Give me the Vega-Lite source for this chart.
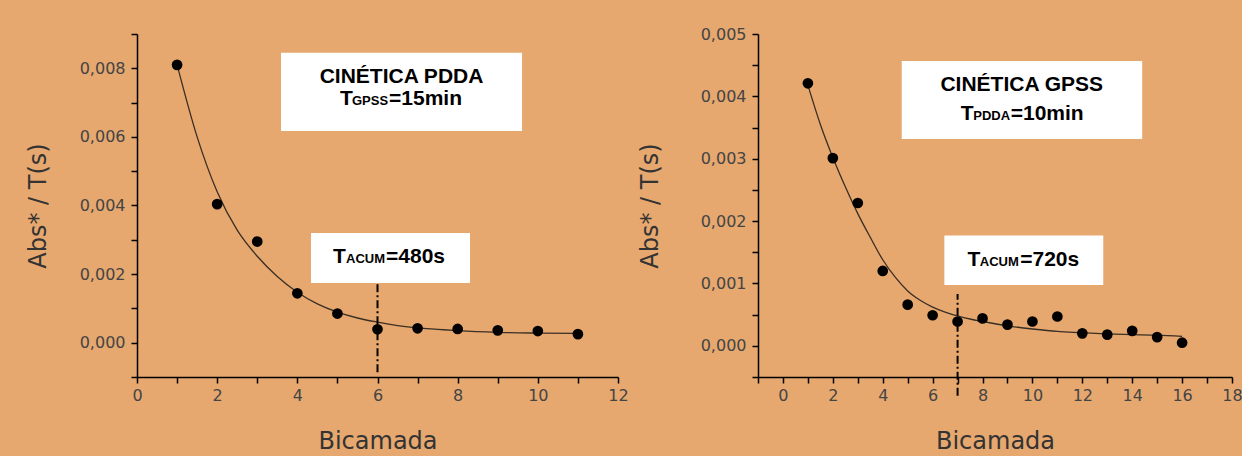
{
  "$schema": "https://vega.github.io/schema/vega-lite/v6.json",
  "padding": {"left": 26, "top": 26, "right": 0, "bottom": 8},
  "spacing": 9,
  "datasets": {
    "leftPoints": [
      {"bicamada": 1, "abs": 0.0081},
      {"bicamada": 2, "abs": 0.00404},
      {"bicamada": 3, "abs": 0.00295},
      {"bicamada": 4, "abs": 0.00144},
      {"bicamada": 5, "abs": 0.00085},
      {"bicamada": 6, "abs": 0.00039},
      {"bicamada": 7, "abs": 0.00042},
      {"bicamada": 8, "abs": 0.0004},
      {"bicamada": 9, "abs": 0.00036},
      {"bicamada": 10, "abs": 0.00034},
      {"bicamada": 11, "abs": 0.00025}
    ],
    "leftFit": [
      {"bicamada": 1, "abs": 0.0081},
      {"bicamada": 1.5, "abs": 0.006},
      {"bicamada": 2, "abs": 0.0044},
      {"bicamada": 2.5, "abs": 0.00328},
      {"bicamada": 3, "abs": 0.00252},
      {"bicamada": 3.5, "abs": 0.00193},
      {"bicamada": 4, "abs": 0.00147},
      {"bicamada": 4.5, "abs": 0.00113},
      {"bicamada": 5, "abs": 0.00089},
      {"bicamada": 5.5, "abs": 0.00072},
      {"bicamada": 6, "abs": 0.0006},
      {"bicamada": 6.5, "abs": 0.0005},
      {"bicamada": 7, "abs": 0.00043},
      {"bicamada": 7.5, "abs": 0.00039},
      {"bicamada": 8, "abs": 0.00035},
      {"bicamada": 9, "abs": 0.0003},
      {"bicamada": 10, "abs": 0.00028},
      {"bicamada": 11, "abs": 0.00027}
    ],
    "rightPoints": [
      {"bicamada": 1, "abs": 0.00421},
      {"bicamada": 2, "abs": 0.00301},
      {"bicamada": 3, "abs": 0.00229},
      {"bicamada": 4, "abs": 0.0012},
      {"bicamada": 5, "abs": 0.00066},
      {"bicamada": 6, "abs": 0.00049},
      {"bicamada": 7, "abs": 0.00039},
      {"bicamada": 8, "abs": 0.00044},
      {"bicamada": 9, "abs": 0.00034},
      {"bicamada": 10, "abs": 0.00039},
      {"bicamada": 11, "abs": 0.00047},
      {"bicamada": 12, "abs": 0.0002},
      {"bicamada": 13, "abs": 0.00018},
      {"bicamada": 14, "abs": 0.00024},
      {"bicamada": 15, "abs": 0.00014},
      {"bicamada": 16, "abs": 0.00005}
    ],
    "rightFit": [
      {"bicamada": 1, "abs": 0.00418},
      {"bicamada": 1.5, "abs": 0.00355},
      {"bicamada": 2, "abs": 0.00302},
      {"bicamada": 2.5, "abs": 0.00255},
      {"bicamada": 3, "abs": 0.00212},
      {"bicamada": 3.5, "abs": 0.00174},
      {"bicamada": 4, "abs": 0.00138},
      {"bicamada": 4.5, "abs": 0.0011},
      {"bicamada": 5, "abs": 0.00088},
      {"bicamada": 5.5, "abs": 0.00073},
      {"bicamada": 6, "abs": 0.00062},
      {"bicamada": 6.5, "abs": 0.00054},
      {"bicamada": 7, "abs": 0.00048},
      {"bicamada": 7.5, "abs": 0.00043},
      {"bicamada": 8, "abs": 0.00039},
      {"bicamada": 9, "abs": 0.00032},
      {"bicamada": 10, "abs": 0.00027},
      {"bicamada": 11, "abs": 0.00023},
      {"bicamada": 12, "abs": 0.00021},
      {"bicamada": 13, "abs": 0.00019},
      {"bicamada": 14, "abs": 0.00018},
      {"bicamada": 15, "abs": 0.00017},
      {"bicamada": 16, "abs": 0.00015}
    ]
  },
  "hconcat": [
    {
      "width": 481,
      "height": 343,
      "layer": [
        {
          "data": {"values": [
            {"x1": 3.593, "x2": 9.606, "y1": 0.006175, "y2": 0.008453},
            {"x1": 4.341, "x2": 8.308, "y1": 0.001737, "y2": 0.003197}
          ]},
          "mark": {"type": "rect", "fill": "white", "stroke": null},
          "encoding": {
            "x": {"field": "x1", "type": "quantitative", "scale": {"domain": [0, 12], "nice": false},
              "axis": {"title": "Bicamada", "values": [0,1,2,3,4,5,6,7,8,9,10,11,12], "tickCount": 100,
                "labelExpr": "datum.value % 2 == 0 ? format(datum.value, 'd') : ''",
                "labelOverlap": false, "labelFontSize": 16, "labelFont": "DejaVu Sans",
                "labelPadding": 4, "titlePadding": 26}},
            "x2": {"field": "x2"},
            "y": {"field": "y1", "type": "quantitative", "scale": {"domain": [-0.001, 0.009], "nice": false, "zero": false},
              "axis": {"title": "Abs* / T(s)", "values": [-0.001,0,0.001,0.002,0.003,0.004,0.005,0.006,0.007,0.008,0.009], "tickCount": 100,
                "labelExpr": "round(datum.value*1000) % 2 == 0 ? replace(format(datum.value, '.3f'), '.', ',') : ''",
                "labelOverlap": false, "labelFontSize": 16, "labelFont": "DejaVu Sans",
                "labelPadding": 6, "titlePadding": 29}},
            "y2": {"field": "y2"}
          }
        },
        {
          "data": {"name": "leftFit"},
          "mark": {"type": "line", "color": "#3a2f25", "strokeWidth": 1.3, "interpolate": "monotone"},
          "encoding": {
            "x": {"field": "bicamada", "type": "quantitative"},
            "y": {"field": "abs", "type": "quantitative"}
          }
        },
        {
          "data": {"values": [{"x": 6, "y1": -0.00086, "y2": 0.00174}]},
          "mark": {"type": "rule", "color": "#000", "strokeWidth": 2, "strokeDash": [8, 3, 2, 3], "clip": false},
          "encoding": {
            "x": {"field": "x", "type": "quantitative"},
            "y": {"field": "y1", "type": "quantitative"},
            "y2": {"field": "y2"}
          }
        },
        {
          "data": {"name": "leftPoints"},
          "mark": {"type": "point", "filled": true, "shape": "circle", "color": "#000", "opacity": 1, "size": 115},
          "encoding": {
            "x": {"field": "bicamada", "type": "quantitative"},
            "y": {"field": "abs", "type": "quantitative"}
          }
        },
        {
          "data": {"values": [
            {"x": 6.599, "y": 0.007577, "label": "CINÉTICA PDDA"}
          ]},
          "mark": {"type": "text", "font": "Liberation Sans", "fontWeight": "bold", "fontSize": 21, "align": "center", "baseline": "alphabetic", "color": "#000"},
          "encoding": {
            "x": {"field": "x", "type": "quantitative"},
            "y": {"field": "y", "type": "quantitative"},
            "text": {"field": "label"}
          }
        },
        {
          "data": {"values": [
            {"x": 5.065, "y": 0.006934, "label": "T"},
            {"x": 6.287, "y": 0.006934, "label": "=15min"},
            {"x": 4.89, "y": 0.002321, "label": "T"},
            {"x": 6.213, "y": 0.002321, "label": "=480s"}
          ]},
          "mark": {"type": "text", "font": "Liberation Sans", "fontWeight": "bold", "fontSize": 21, "align": "left", "baseline": "alphabetic", "color": "#000"},
          "encoding": {
            "x": {"field": "x", "type": "quantitative"},
            "y": {"field": "y", "type": "quantitative"},
            "text": {"field": "label"}
          }
        },
        {
          "data": {"values": [
            {"x": 5.364, "y": 0.006934, "label": "GPSS"},
            {"x": 5.215, "y": 0.002321, "label": "ACUM"}
          ]},
          "mark": {"type": "text", "font": "Liberation Sans", "fontWeight": "bold", "fontSize": 13, "align": "left", "baseline": "alphabetic", "color": "#000"},
          "encoding": {
            "x": {"field": "x", "type": "quantitative"},
            "y": {"field": "y", "type": "quantitative"},
            "text": {"field": "label"}
          }
        }
      ]
    },
    {
      "width": 474,
      "height": 343,
      "layer": [
        {
          "data": {"values": [
            {"x1": 4.76, "x2": 14.4, "y1": 0.003317, "y2": 0.004566},
            {"x1": 6.47, "x2": 12.84, "y1": 0.000976, "y2": 0.001768}
          ]},
          "mark": {"type": "rect", "fill": "white", "stroke": null},
          "encoding": {
            "x": {"field": "x1", "type": "quantitative", "scale": {"domain": [-1, 18], "nice": false, "zero": false},
              "axis": {"title": "Bicamada", "values": [-1,0,1,2,3,4,5,6,7,8,9,10,11,12,13,14,15,16,17,18], "tickCount": 100,
                "labelExpr": "datum.value % 2 == 0 ? format(datum.value, 'd') : ''",
                "labelOverlap": false, "labelFontSize": 16, "labelFont": "DejaVu Sans",
                "labelPadding": 4, "titlePadding": 26}},
            "x2": {"field": "x2"},
            "y": {"field": "y1", "type": "quantitative", "scale": {"domain": [-0.0005, 0.005], "nice": false, "zero": false},
              "axis": {"title": "Abs* / T(s)", "values": [-0.0005,0,0.0005,0.001,0.0015,0.002,0.0025,0.003,0.0035,0.004,0.0045,0.005], "tickCount": 100,
                "labelExpr": "round(datum.value*10000) % 10 == 0 ? replace(format(datum.value, '.3f'), '.', ',') : ''",
                "labelOverlap": false, "labelFontSize": 16, "labelFont": "DejaVu Sans",
                "labelPadding": 6, "titlePadding": 38}},
            "y2": {"field": "y2"}
          }
        },
        {
          "data": {"name": "rightFit"},
          "mark": {"type": "line", "color": "#3a2f25", "strokeWidth": 1.3, "interpolate": "monotone"},
          "encoding": {
            "x": {"field": "bicamada", "type": "quantitative"},
            "y": {"field": "abs", "type": "quantitative"}
          }
        },
        {
          "data": {"values": [{"x": 7, "y1": -0.0008, "y2": 0.00083}]},
          "mark": {"type": "rule", "color": "#000", "strokeWidth": 2, "strokeDash": [8, 3, 2, 3], "clip": false},
          "encoding": {
            "x": {"field": "x", "type": "quantitative"},
            "y": {"field": "y1", "type": "quantitative"},
            "y2": {"field": "y2"}
          }
        },
        {
          "data": {"name": "rightPoints"},
          "mark": {"type": "point", "filled": true, "shape": "circle", "color": "#000", "opacity": 1, "size": 115},
          "encoding": {
            "x": {"field": "bicamada", "type": "quantitative"},
            "y": {"field": "abs", "type": "quantitative"}
          }
        },
        {
          "data": {"values": [
            {"x": 9.57, "y": 0.004088, "label": "CINÉTICA GPSS"}
          ]},
          "mark": {"type": "text", "font": "Liberation Sans", "fontWeight": "bold", "fontSize": 21, "align": "center", "baseline": "alphabetic", "color": "#000"},
          "encoding": {
            "x": {"field": "x", "type": "quantitative"},
            "y": {"field": "y", "type": "quantitative"},
            "text": {"field": "label"}
          }
        },
        {
          "data": {"values": [
            {"x": 7.13, "y": 0.003617, "label": "T"},
            {"x": 9.13, "y": 0.003617, "label": "=10min"},
            {"x": 7.4, "y": 0.001275, "label": "T"},
            {"x": 9.51, "y": 0.001275, "label": "=720s"}
          ]},
          "mark": {"type": "text", "font": "Liberation Sans", "fontWeight": "bold", "fontSize": 21, "align": "left", "baseline": "alphabetic", "color": "#000"},
          "encoding": {
            "x": {"field": "x", "type": "quantitative"},
            "y": {"field": "y", "type": "quantitative"},
            "text": {"field": "label"}
          }
        },
        {
          "data": {"values": [
            {"x": 7.63, "y": 0.003617, "label": "PDDA"},
            {"x": 7.89, "y": 0.001275, "label": "ACUM"}
          ]},
          "mark": {"type": "text", "font": "Liberation Sans", "fontWeight": "bold", "fontSize": 13, "align": "left", "baseline": "alphabetic", "color": "#000"},
          "encoding": {
            "x": {"field": "x", "type": "quantitative"},
            "y": {"field": "y", "type": "quantitative"},
            "text": {"field": "label"}
          }
        }
      ]
    }
  ],
  "config": {
    "background": "#E6A86F",
    "view": {"stroke": null},
    "axis": {
      "grid": false,
      "domainColor": "#000",
      "domainWidth": 1.5,
      "tickColor": "#000",
      "tickWidth": 1.5,
      "tickSize": 6,
      "labelFont": "DejaVu Sans",
      "labelFontSize": 16,
      "labelColor": "#444",
      "labelOverlap": false,
      "labelFlush": false,
      "titleFont": "DejaVu Sans",
      "titleFontSize": 24,
      "titleFontWeight": "normal",
      "titleColor": "#333"
    }
  }
}
